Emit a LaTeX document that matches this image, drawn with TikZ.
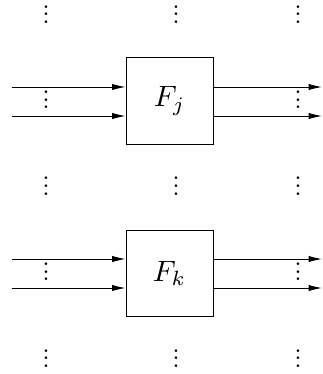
\documentclass[tikz,border=0pt]{standalone}
\usepackage{amsmath}
\usepackage{amssymb}
\usepackage{graphicx}
\usepackage{xcolor}
\usepackage{tikz}
\usetikzlibrary{arrows.meta}

\newcommand{\dotcol}{\vbox{\baselineskip4pt\lineskiplimit0pt\hbox{.}\hbox{.}\hbox{.}}}

\begin{document}
\begin{tikzpicture}[x=0.5263pt,y=-0.5263pt,line width=0.5pt,
		blk/.style={draw,minimum width=45.8pt,minimum height=45.3pt,inner sep=0pt},
		vd/.style={inner sep=0pt,anchor=south,font=\Large},
		fl/.style={-{Latex[length=7pt,width=3.3pt]}}]
			\useasboundingbox (0,0) rectangle (322,374);
			\node[blk] (Fj) at (169.5,101) {\scalebox{1.55}{$F_j$}};
			\node[blk] (Fk) at (169.5,273.5) {\scalebox{1.55}{$F_k$}};
			% columns of dots
			\foreach \x [count=\i] in {46,176,298} {
				\node[vd] (top\i) at (\x,24) {\dotcol};
				\node[vd] (mid\i) at (\x,195.5) {\dotcol};
				\node[vd] (bot\i) at (\x,368) {\dotcol};
			}
			% inputs and outputs
			\foreach \b/\ya/\yb in {Fj/87/116, Fk/259/288} {
				\coordinate (\b-ia) at (12,\ya);
				\coordinate (\b-ib) at (12,\yb);
				\coordinate (\b-oa) at (322,\ya);
				\coordinate (\b-ob) at (322,\yb);
				\draw[fl] (\b-ia) -- (\b-ia -| \b.west);
				\draw[fl] (\b-ib) -- (\b-ib -| \b.west);
				\draw[fl] (\b-oa -| \b.east) -- (\b-oa);
				\draw[fl] (\b-ob -| \b.east) -- (\b-ob);
				\node[vd] (\b-id) at (46,\yb-6.7) {\dotcol};
				\node[vd] (\b-od) at (298,\yb-6.7) {\dotcol};
			}
		\end{tikzpicture}
\end{document}
